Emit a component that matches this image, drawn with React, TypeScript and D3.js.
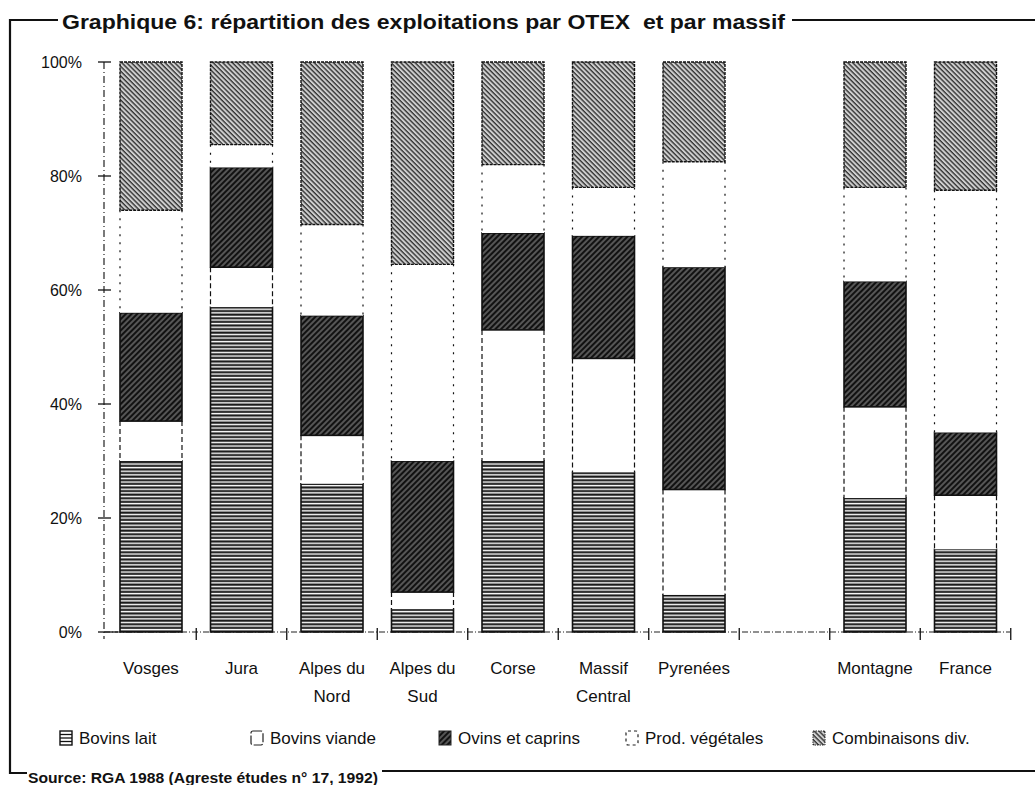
import React from "react";
import * as d3 from "d3";

// massifs (bars), the 8th slot of the axis is left empty in the original
const massifs = ["Vosges", "Jura", "Alpes du Nord", "Alpes du Sud", "Corse", "Massif Central", "Pyrenées", "Montagne", "France"];
const massifLabels = [["Vosges"], ["Jura"], ["Alpes du", "Nord"], ["Alpes du", "Sud"], ["Corse"], ["Massif", "Central"], ["Pyrenées"], ["Montagne"], ["France"]];

// share of farms by OTEX, in %
const bovinsLait = [30, 57, 26, 4, 30, 28, 6.5, 23.5, 14.5];
const bovinsViande = [7, 7, 8.5, 3, 23, 20, 18.5, 16, 9.5];
const ovinsCaprins = [19, 17.5, 21, 23, 17, 21.5, 39, 22, 11];
const prodVegetales = [18, 4, 16, 34.5, 12, 8.5, 18.5, 16.5, 42.5];
const combinaisons = [26, 14.5, 28.5, 35.5, 18, 22, 17.5, 22, 22.5];

const seriesKeys = ["lait", "viande", "ovins", "veg", "comb"];
const seriesLabels = ["Bovins lait", "Bovins viande", "Ovins et caprins", "Prod. végétales", "Combinaisons div."];
const yTicks = [0, 20, 40, 60, 80, 100];

const W = 1035;
const H = 785;
const FONT = "'Liberation Sans', Arial, Helvetica, sans-serif";

const slots = [...massifs.slice(0, 7), "_gap", ...massifs.slice(7)];

const x = d3.scaleBand<string>().domain(slots).range([120, 996.5]).paddingInner(0.315).paddingOuter(0);
const y = d3.scaleLinear().domain([0, 100]).range([632, 62]);

const rows = massifs.map((m, i) => ({
  massif: m,
  lait: bovinsLait[i],
  viande: bovinsViande[i],
  ovins: ovinsCaprins[i],
  veg: prodVegetales[i],
  comb: combinaisons[i],
}));
const stacked = d3.stack<any>().keys(seriesKeys)(rows);

const fills: Record<string, string> = {
  lait: "url(#pLait)",
  viande: "#fff",
  ovins: "url(#pOvins)",
  veg: "#fff",
  comb: "url(#pComb)",
};

function Segment({ k, x0, y0, y1, w }: { k: string; x0: number; y0: number; y1: number; w: number }) {
  const h = y0 - y1;
  if (k === "viande" || k === "veg") {
    const dash = k === "viande" ? "5 3" : "2 6";
    return (
      <g>
        <rect x={x0} y={y1} width={w} height={h} fill="#fff" />
        <line x1={x0} x2={x0} y1={y1} y2={y0} stroke="#111" strokeWidth={1.2} strokeDasharray={dash} />
        <line x1={x0 + w} x2={x0 + w} y1={y1} y2={y0} stroke="#111" strokeWidth={1.2} strokeDasharray={dash} />
      </g>
    );
  }
  return (
    <rect
      x={x0}
      y={y1}
      width={w}
      height={h}
      fill={fills[k]}
      stroke="#111"
      strokeWidth={k === "comb" ? 1.4 : 1.6}
      strokeDasharray={k === "comb" ? "3 1" : undefined}
    />
  );
}

function LegendIcon({ k, x0, y0 }: { k: string; x0: number; y0: number }) {
  const w = 12;
  const h = 14;
  if (k === "viande" || k === "veg") {
    return (
      <rect x={x0} y={y0} width={w} height={h} rx={2} fill="#fff" stroke="#222" strokeWidth={1.2}
        strokeDasharray={k === "viande" ? "9 2" : "3 3"} />
    );
  }
  if (k === "lait") {
    return (
      <g>
        <rect x={x0} y={y0} width={w} height={h} fill="#fff" stroke="#111" strokeWidth={1.4} />
        {[3.5, 7, 10.5].map((d) => (
          <line key={d} x1={x0} x2={x0 + w} y1={y0 + d} y2={y0 + d} stroke="#111" strokeWidth={1.3} />
        ))}
      </g>
    );
  }
  return (
    <rect x={x0} y={y0} width={w} height={h} fill={fills[k]} stroke="#222" strokeWidth={1}
      strokeDasharray={k === "comb" ? "1.5 1" : undefined} />
  );
}

export default function App() {
  const bw = x.bandwidth();
  const step = x.step();
  const legendX = [60, 251, 439, 626, 813];

  return (
    <svg width={W} height={H} style={{ position: "absolute", left: 0, top: 0, background: "#fff" }} fontFamily={FONT}>
      <defs>
        <pattern id="pLait" width={8} height={3.6} patternUnits="userSpaceOnUse">
          <rect width={8} height={3.6} fill="#fff" />
          <rect y={0.4} width={8} height={2.1} fill="#151515" />
        </pattern>
        <pattern id="pOvins" width={4} height={4} patternUnits="userSpaceOnUse" patternTransform="rotate(45)">
          <rect width={4} height={4} fill="#111" />
          <line x1={1} x2={1} y1={0} y2={4} stroke="#aaa" strokeWidth={0.9} />
        </pattern>
        <pattern id="pComb" width={3.4} height={3.4} patternUnits="userSpaceOnUse" patternTransform="rotate(-45)">
          <rect width={3.4} height={3.4} fill="#cfcfcf" />
          <line x1={1} x2={1} y1={0} y2={3.4} stroke="#222" strokeWidth={1.25} />
        </pattern>
      </defs>

      {/* frame */}
      <path d="M58,20 H10 V773 H27" fill="none" stroke="#111" strokeWidth={2.2} />
      <line x1={792} x2={W} y1={20} y2={20} stroke="#111" strokeWidth={2} />
      <line x1={382} x2={W} y1={771} y2={771} stroke="#111" strokeWidth={2} />
      <text x={62} y={29} fontSize={21} fontWeight="bold" fill="#111" textLength={723}
        lengthAdjust="spacingAndGlyphs" style={{ whiteSpace: "pre" }}>
        {"Graphique 6: répartition des exploitations par OTEX  et par massif"}
      </text>
      <text x={28} y={783} fontSize={14} fontWeight="bold" fill="#111" textLength={350} lengthAdjust="spacingAndGlyphs">
        Source: RGA 1988 (Agreste études n° 17, 1992)
      </text>

      {/* y axis */}
      <line x1={104} x2={104} y1={y(100)} y2={y(0) + 7} stroke="#222" strokeWidth={1.2} strokeDasharray="7 3 1 3" />
      {yTicks.map((t) => (
        <g key={t}>
          <line x1={98} x2={t === 0 ? 118 : 111} y1={y(t)} y2={y(t)} stroke="#111" strokeWidth={1.3} />
          <text x={82} y={y(t) + 6} fontSize={16} textAnchor="end" fill="#111">{t}%</text>
        </g>
      ))}

      {/* x axis baseline and separators */}
      <line x1={104} x2={1010} y1={y(0)} y2={y(0)} stroke="#222" strokeWidth={1.2} strokeDasharray="6 2 1 2" />
      {slots.map((s) => {
        const xt = (x(s) as number) + bw + (step - bw) / 2;
        return <line key={s} x1={xt} x2={xt} y1={y(0) - 4} y2={y(0) + 8} stroke="#111" strokeWidth={1.3} />;
      })}

      {/* bars */}
      {stacked.map((layer) => (
        <g key={layer.key}>
          {layer.map((d, i) => (
            <Segment key={i} k={layer.key} x0={x(massifs[i]) as number} w={bw} y0={y(d[0])} y1={y(d[1])} />
          ))}
        </g>
      ))}

      {/* category labels */}
      {massifs.map((m, i) => (
        <text key={m} x={(x(m) as number) + bw / 2} y={674} fontSize={17} textAnchor="middle" fill="#111">
          {massifLabels[i].map((l, j) => (
            <tspan key={j} x={(x(m) as number) + bw / 2} dy={j === 0 ? 0 : 28}>{l}</tspan>
          ))}
        </text>
      ))}

      {/* legend */}
      {seriesKeys.map((k, i) => (
        <g key={k}>
          <LegendIcon k={k} x0={legendX[i]} y0={731} />
          <text x={legendX[i] + 19} y={744} fontSize={17} fill="#111">{seriesLabels[i]}</text>
        </g>
      ))}
    </svg>
  );
}
